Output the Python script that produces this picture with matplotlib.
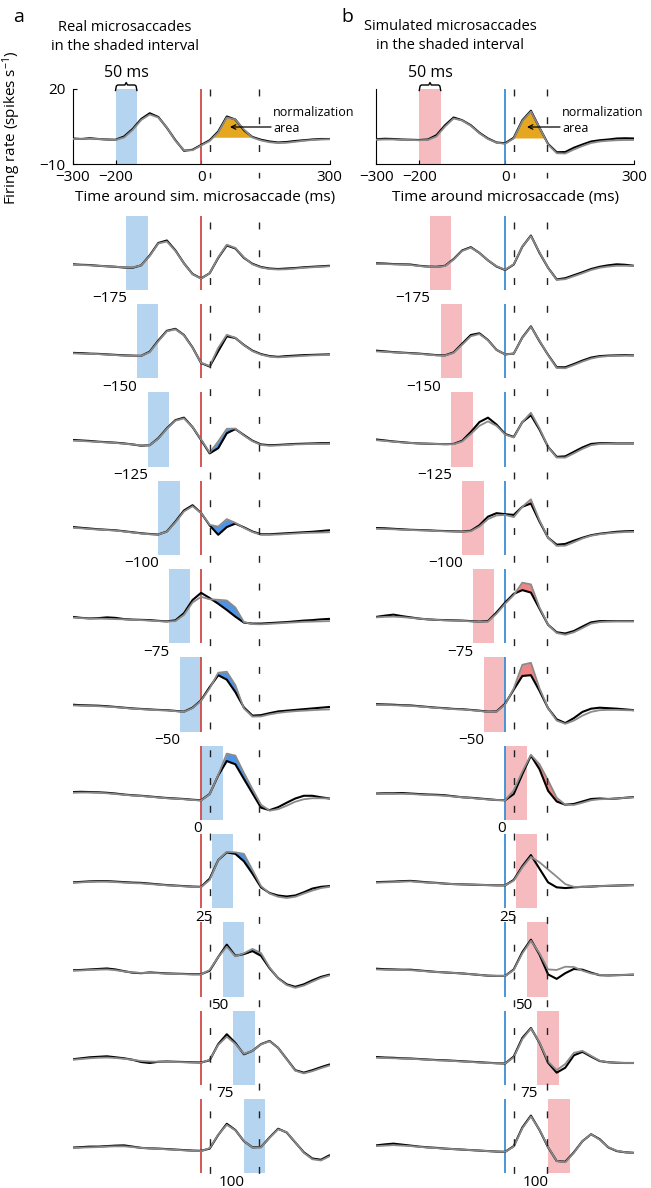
import numpy as np
import matplotlib
matplotlib.use("Agg")
import matplotlib.pyplot as plt

plt.rcParams['font.family'] = ['Open Sans', 'DejaVu Sans']
plt.rcParams['mathtext.default'] = 'regular'

W, H = 651, 1188

# sample times (ms) of every trace
t = np.arange(-300, 301, 20)

# ---- column a: real microsaccades in the shaded interval ----
top_a_black = [0.2, 0.0, 0.3, 0.0, -0.2, -0.3, 1.0, 4.0, 8.0, 10.3, 8.8, 4.5, -0.5, -4.7, -4.3, -2.4, -0.5, 3.0, 9.0, 7.8, 3.5, 0.8, -0.3, -1.0, -1.4, -1.2, -0.8, -0.5, -0.2, 0.0, 0.0]
top_a_gray = [0.0, 0.0, 0.1, 0.0, -0.2, -0.4, 0.6, 3.6, 7.6, 9.8, 8.6, 4.6, -0.7, -4.5, -4.5, -2.6, -0.8, 2.6, 8.6, 7.8, 3.8, 0.6, -0.6, -1.3, -1.6, -1.5, -1.1, -0.7, -0.4, -0.2, -0.1]

a_n175_black = [0.4, 0.2, 0.1, -0.2, -0.4, -0.6, -0.9, -1.0, 0.0, 4.0, 9.0, 10.0, 6.0, 0.8, -3.5, -5.3, -3.2, 3.0, 8.0, 6.8, 3.0, 0.6, -0.7, -1.3, -1.5, -1.3, -1.1, -0.8, -0.6, -0.4, -0.2]
a_n175_gray = [0.2, 0.1, 0.0, -0.2, -0.4, -0.6, -0.8, -0.9, 0.0, 3.8, 8.8, 9.6, 5.8, 0.8, -3.6, -5.4, -3.2, 3.2, 8.3, 7.0, 3.2, 0.4, -0.9, -1.5, -1.7, -1.6, -1.3, -1.0, -0.8, -0.6, -0.4]
a_n150_black = [0.3, 0.2, 0.0, -0.1, -0.3, -0.5, -0.7, -0.8, -0.9, 0.8, 5.3, 9.2, 10.0, 7.5, 2.5, -3.8, -5.2, 1.0, 7.0, 6.3, 3.5, 1.2, -0.2, -1.0, -1.3, -1.0, -0.8, -0.6, -0.5, -0.4, -0.3]
a_n150_gray = [0.1, 0.0, -0.1, -0.2, -0.4, -0.6, -0.8, -0.9, -0.9, 0.6, 5.0, 9.0, 9.8, 7.4, 2.4, -3.7, -5.0, 2.3, 7.6, 6.4, 3.4, 1.0, -0.4, -1.2, -1.5, -1.3, -1.1, -0.9, -0.7, -0.6, -0.5]
a_n125_black = [0.8, 0.6, 0.4, 0.1, -0.1, -0.3, -0.6, -1.0, -1.5, -1.3, 1.5, 5.5, 8.8, 9.8, 6.0, 0.8, -4.6, -2.5, 3.5, 5.2, 2.8, 0.5, -1.0, -1.3, -1.2, -1.0, -0.8, -0.7, -0.6, -0.5, -0.5]
a_n125_gray = [0.5, 0.4, 0.2, 0.0, -0.2, -0.4, -0.7, -1.0, -1.4, -1.3, 1.3, 5.3, 8.6, 9.5, 6.0, 1.0, -4.3, 0.2, 5.3, 5.4, 2.6, 0.3, -1.2, -1.5, -1.4, -1.2, -1.0, -0.9, -0.8, -0.8, -0.8]
a_n100_black = [1.3, 1.0, 0.7, 0.4, 0.2, 0.0, -0.4, -0.8, -1.2, -1.5, -1.7, -0.5, 3.5, 8.0, 10.1, 7.0, 2.0, -1.8, 1.3, 2.7, 1.2, -0.5, -1.6, -1.6, -1.4, -1.2, -1.0, -0.8, -0.6, -0.3, 0.0]
a_n100_gray = [1.0, 0.8, 0.5, 0.3, 0.1, -0.1, -0.5, -0.9, -1.3, -1.6, -1.7, -0.6, 3.2, 7.6, 9.7, 7.0, 2.2, 1.5, 4.5, 3.0, 1.0, -0.7, -1.8, -1.8, -1.7, -1.5, -1.3, -1.1, -1.0, -0.9, -0.8]
a_n75_black = [0.7, 0.3, 0.1, 0.2, 0.5, 0.3, -0.2, -0.4, -0.5, -0.6, -0.9, -1.1, -0.7, 2.2, 7.5, 10.4, 8.3, 6.0, 3.5, 0.8, -1.6, -2.0, -2.0, -1.8, -1.6, -1.4, -1.1, -0.8, -0.6, -0.3, -0.1]
a_n75_gray = [0.4, 0.2, 0.1, 0.0, -0.1, -0.2, -0.3, -0.5, -0.6, -0.8, -1.0, -1.2, -1.0, 1.5, 6.5, 8.8, 7.8, 7.6, 7.3, 4.5, -1.4, -2.2, -2.3, -2.1, -1.9, -1.7, -1.5, -1.3, -1.2, -1.1, -1.0]
a_n50_black = [0.9, 0.7, 0.6, 0.5, 0.3, 0.0, -0.3, -0.6, -0.8, -1.0, -1.2, -1.3, -1.6, -1.9, -0.3, 2.7, 8.0, 12.8, 11.0, 6.0, -0.2, -3.5, -3.3, -2.5, -1.8, -1.5, -1.2, -0.9, -0.6, -0.3, 0.0]
a_n50_gray = [0.6, 0.5, 0.4, 0.3, 0.1, -0.1, -0.4, -0.7, -0.9, -1.1, -1.3, -1.4, -1.7, -2.0, -0.5, 2.5, 7.5, 13.8, 14.2, 8.8, -0.6, -3.9, -3.8, -3.0, -2.4, -2.0, -1.7, -1.5, -1.3, -1.1, -1.0]
a_0_black = [1.3, 1.4, 1.3, 1.2, 1.0, 0.7, 0.3, 0.0, -0.2, -0.5, -0.8, -1.1, -1.3, -1.5, -1.8, -2.0, 0.5, 8.0, 13.8, 12.5, 6.6, 0.8, -5.0, -6.0, -4.8, -3.0, -1.3, -0.2, -0.2, -0.8, -1.3]
a_0_gray = [1.0, 1.1, 1.1, 1.0, 0.8, 0.5, 0.2, -0.1, -0.3, -0.6, -0.9, -1.2, -1.4, -1.6, -1.9, -2.1, 0.4, 8.2, 16.8, 16.0, 9.0, 2.5, -3.8, -6.2, -5.6, -4.2, -2.6, -1.6, -1.2, -1.2, -1.3]
a_25_black = [0.5, 0.7, 0.9, 1.0, 1.0, 0.8, 0.6, 0.4, 0.3, 0.0, -0.3, -0.6, -0.8, -1.0, -1.2, -1.3, 2.0, 9.5, 12.6, 12.0, 9.0, 4.0, -1.5, -3.8, -4.8, -5.2, -4.8, -3.5, -2.0, -1.3, -1.0]
a_25_gray = [0.3, 0.5, 0.7, 0.8, 0.8, 0.6, 0.4, 0.2, 0.1, -0.2, -0.4, -0.7, -0.9, -1.1, -1.3, -1.4, 1.5, 9.5, 12.8, 12.6, 12.0, 5.5, -1.0, -4.0, -5.3, -5.8, -5.3, -4.0, -2.8, -1.8, -1.3]
a_50_black = [0.7, 0.8, 1.0, 1.2, 1.4, 1.0, 0.3, -0.3, -0.5, -0.2, -0.4, -0.6, -0.7, -0.8, -0.9, -0.9, 0.5, 6.0, 11.0, 6.5, 7.2, 8.4, 6.5, 1.5, -2.5, -5.0, -6.0, -5.0, -3.4, -2.0, -1.1]
a_50_gray = [0.5, 0.6, 0.8, 0.9, 1.0, 0.7, 0.2, -0.2, -0.4, -0.4, -0.5, -0.7, -0.8, -0.9, -1.0, -1.0, 0.8, 6.0, 10.2, 6.3, 7.5, 9.3, 7.6, 1.8, -2.6, -5.3, -6.4, -5.5, -3.9, -2.4, -1.4]
a_75_black = [0.4, 0.8, 1.2, 1.4, 1.6, 1.2, 0.8, 0.2, -0.7, -1.1, -0.6, -0.5, -0.6, -0.7, -0.8, -0.9, 0.0, 6.5, 10.5, 7.0, 2.4, 3.8, 6.5, 7.8, 5.0, 0.5, -4.0, -5.0, -4.0, -2.8, -1.7]
a_75_gray = [0.2, 0.5, 0.8, 1.0, 1.1, 0.9, 0.6, 0.2, -0.3, -0.5, -0.6, -0.6, -0.7, -0.8, -0.9, -1.0, 0.2, 6.2, 9.5, 6.6, 2.6, 3.8, 6.4, 7.7, 5.0, 0.4, -4.2, -5.3, -4.4, -3.2, -2.1]
a_100_black = [0.4, 0.6, 0.8, 0.8, 1.0, 1.2, 1.3, 0.8, 0.3, 0.1, 0.0, -0.2, -0.4, -0.6, -0.8, -0.9, 0.0, 5.5, 10.0, 7.5, 3.0, 0.5, 0.6, 4.5, 8.0, 6.5, 2.5, -1.5, -4.0, -4.5, -2.7]
a_100_gray = [0.2, 0.4, 0.5, 0.6, 0.8, 0.9, 0.9, 0.6, 0.3, 0.1, -0.1, -0.3, -0.5, -0.7, -0.9, -1.0, 0.2, 5.6, 9.6, 7.4, 3.1, 0.4, 0.5, 4.4, 7.8, 6.6, 2.6, -1.7, -4.3, -4.8, -3.1]

# ---- column b: simulated microsaccades in the shaded interval ----
top_b_black = [-0.1, 0.1, 0.0, -0.2, -0.3, -0.4, -0.2, 1.5, 5.5, 8.6, 7.5, 5.5, 2.5, 0.2, -1.4, -1.7, 0.5, 7.5, 11.3, 4.5, -2.0, -5.3, -5.2, -3.5, -2.2, -1.0, -0.5, -0.2, 0.2, 0.3, 0.2]
top_b_gray = [-0.3, -0.2, -0.2, -0.3, -0.4, -0.5, -0.4, 1.0, 5.0, 8.2, 7.4, 5.3, 2.3, 0.0, -1.5, -1.9, 0.2, 7.2, 11.0, 4.5, -2.2, -5.7, -5.8, -4.2, -2.8, -1.6, -1.0, -0.7, -0.5, -0.4, -0.4]

b_n175_black = [0.8, 0.7, 0.5, 0.4, 0.3, -0.2, -0.5, -0.6, -0.2, 2.5, 6.0, 7.3, 5.0, 2.0, -0.5, -1.9, 0.3, 7.5, 12.0, 5.0, -1.0, -5.7, -5.2, -4.0, -2.8, -1.5, -0.6, 0.0, 0.4, 0.2, -0.2]
b_n175_gray = [0.5, 0.5, 0.4, 0.3, 0.1, -0.3, -0.6, -0.7, -0.3, 2.3, 5.8, 7.1, 5.0, 2.0, -0.4, -1.8, 0.4, 7.6, 11.8, 5.2, -1.0, -5.9, -5.6, -4.4, -3.2, -1.9, -1.0, -0.5, -0.2, -0.2, -0.3]
b_n150_black = [1.2, 0.9, 0.6, 0.4, 0.2, 0.0, -0.3, -0.6, -0.7, 0.5, 4.0, 7.5, 8.2, 5.5, 1.5, -0.3, 0.0, 6.5, 11.0, 5.0, -0.5, -5.5, -5.5, -4.2, -2.8, -1.6, -1.0, -0.8, -0.7, -0.6, -0.7]
b_n150_gray = [0.9, 0.7, 0.5, 0.3, 0.1, -0.1, -0.4, -0.7, -0.8, 0.3, 3.6, 7.0, 7.9, 5.4, 1.5, -0.3, 0.0, 6.4, 10.8, 5.2, -0.6, -5.8, -5.9, -4.6, -3.2, -2.0, -1.3, -1.0, -0.9, -0.8, -0.8]
b_n125_black = [1.0, 0.6, 0.2, -0.1, -0.4, -0.6, -0.7, -0.8, -0.9, -0.8, 0.5, 4.0, 8.0, 9.8, 7.0, 3.2, 2.0, 8.0, 10.8, 5.0, -2.0, -6.0, -5.8, -4.0, -2.2, -0.8, -0.5, -0.5, -0.6, -0.6, -0.6]
b_n125_gray = [0.7, 0.4, 0.1, -0.2, -0.4, -0.6, -0.7, -0.8, -0.9, -0.9, 0.2, 3.2, 6.5, 8.3, 6.5, 3.0, 1.8, 8.0, 11.8, 5.5, -2.0, -6.3, -6.3, -4.6, -2.8, -1.3, -0.8, -0.7, -0.7, -0.7, -0.7]
b_n100_black = [0.9, 0.8, 0.6, 0.4, 0.2, 0.1, 0.0, -0.2, -0.3, -0.4, -0.5, -0.2, 2.0, 5.5, 6.9, 6.5, 6.2, 9.5, 10.8, 3.5, -3.0, -5.8, -5.5, -4.2, -3.0, -2.0, -1.4, -1.0, -0.6, -0.4, -0.3]
b_n100_gray = [0.6, 0.5, 0.4, 0.2, 0.1, 0.0, -0.1, -0.3, -0.4, -0.5, -0.6, -0.4, 1.5, 4.5, 6.0, 6.2, 5.3, 9.5, 12.5, 4.0, -3.0, -6.3, -6.2, -4.8, -3.3, -2.2, -1.6, -1.2, -0.9, -0.7, -0.6]
b_n75_black = [0.7, 1.2, 1.6, 1.0, 0.5, 0.0, -0.3, -0.5, -0.6, -0.7, -0.8, -1.0, -1.2, -1.0, 2.5, 6.5, 10.0, 11.5, 10.5, 4.0, -2.5, -5.5, -6.0, -5.0, -3.2, -1.5, -1.0, -1.0, -1.0, -1.0, -1.0]
b_n75_gray = [0.5, 0.7, 0.8, 0.6, 0.3, 0.0, -0.3, -0.5, -0.7, -0.8, -0.9, -1.1, -1.3, -1.2, 2.0, 6.0, 9.5, 14.5, 13.8, 4.5, -2.5, -5.8, -6.5, -5.5, -3.8, -2.0, -1.4, -1.2, -1.1, -1.1, -1.1]
b_n50_black = [1.1, 1.0, 0.9, 0.7, 0.6, 0.3, 0.0, -0.3, -0.5, -0.8, -0.9, -1.2, -1.5, -1.9, -1.8, 1.3, 7.0, 12.5, 12.8, 6.5, -0.5, -5.0, -6.5, -4.5, -2.0, -0.7, -0.3, -0.5, -0.7, -1.0, -1.3]
b_n50_gray = [0.8, 0.8, 0.7, 0.6, 0.4, 0.2, -0.1, -0.4, -0.6, -0.9, -1.0, -1.3, -1.6, -2.0, -1.9, 1.0, 7.5, 17.0, 17.8, 7.5, -0.5, -5.5, -6.8, -5.5, -3.5, -2.0, -1.3, -1.2, -1.2, -1.3, -1.4]
b_0_black = [0.7, 0.8, 0.8, 0.9, 0.7, 0.5, 0.3, 0.2, 0.0, -0.4, -0.8, -1.0, -1.3, -1.6, -1.9, -2.0, 0.5, 8.5, 16.0, 10.5, 1.8, -2.5, -3.8, -3.5, -2.5, -1.5, -1.3, -1.5, -1.3, -1.0, -0.7]
b_0_gray = [0.5, 0.6, 0.6, 0.6, 0.5, 0.3, 0.1, 0.0, -0.2, -0.5, -0.8, -1.1, -1.4, -1.7, -1.9, -2.0, 2.0, 9.5, 16.3, 12.5, 6.0, -1.0, -3.8, -3.9, -3.0, -2.0, -1.6, -1.5, -1.3, -1.0, -0.8]
b_25_black = [0.6, 0.7, 0.8, 1.0, 1.1, 0.8, 0.5, 0.3, 0.0, -0.2, -0.3, -0.4, -0.5, -0.6, -0.7, -0.7, 1.5, 7.0, 11.5, 6.0, 0.5, -1.5, -1.8, -1.5, -1.3, -1.2, -1.0, -0.9, -0.8, -0.7, -0.6]
b_25_gray = [0.4, 0.5, 0.6, 0.8, 0.9, 0.6, 0.4, 0.2, 0.0, -0.2, -0.3, -0.4, -0.5, -0.6, -0.7, -0.7, 1.2, 6.5, 10.8, 8.6, 5.7, 2.8, -0.2, -1.3, -1.4, -1.2, -1.0, -0.9, -0.8, -0.7, -0.6]
b_50_black = [1.3, 1.1, 1.0, 0.9, 0.9, 0.6, 0.3, 0.0, -0.2, -0.4, -0.6, -0.9, -1.2, -1.5, -1.6, -1.6, 1.0, 8.0, 13.0, 7.0, -1.0, -2.8, -0.5, 1.2, 0.9, -0.3, -1.3, -1.4, -1.3, -1.2, -1.1]
b_50_gray = [1.0, 0.9, 0.8, 0.8, 0.7, 0.5, 0.2, 0.0, -0.2, -0.4, -0.6, -0.9, -1.2, -1.5, -1.6, -1.6, 0.8, 7.5, 12.6, 7.5, 1.0, 0.8, 2.1, 2.0, 0.5, -0.6, -1.2, -1.3, -1.3, -1.2, -1.1]
b_75_black = [1.3, 1.1, 1.0, 0.8, 0.7, 0.5, 0.3, 0.1, 0.0, -0.2, -0.4, -0.6, -0.8, -1.0, -1.2, -1.3, 1.5, 9.0, 13.0, 7.0, -1.0, -5.0, -3.0, 2.0, 3.4, 1.5, -0.3, -0.8, -1.0, -1.1, -1.1]
b_75_gray = [1.0, 0.9, 0.8, 0.7, 0.6, 0.4, 0.2, 0.0, -0.1, -0.3, -0.5, -0.7, -0.9, -1.1, -1.2, -1.3, 1.2, 8.5, 12.8, 7.2, -0.5, -4.0, -1.5, 3.0, 3.8, 1.8, -0.2, -0.8, -1.0, -1.1, -1.1]
b_100_black = [1.3, 1.7, 2.0, 1.6, 1.2, 0.8, 0.5, 0.3, 0.0, -0.2, -0.4, -0.6, -0.8, -1.0, -1.2, -1.3, 1.0, 8.5, 13.3, 7.5, 0.5, -5.0, -5.3, -1.5, 3.0, 5.8, 3.8, 0.5, -1.0, -1.5, -1.7]
b_100_gray = [1.0, 1.2, 1.4, 1.2, 1.0, 0.7, 0.4, 0.2, 0.0, -0.2, -0.4, -0.6, -0.8, -1.0, -1.2, -1.3, 0.8, 8.2, 13.0, 7.6, 0.6, -5.0, -5.5, -1.7, 3.0, 5.8, 3.6, 0.6, -0.9, -1.5, -1.8]

# start of the shaded 50 ms interval in each lower panel
interval_starts = [-175, -150, -125, -100, -75, -50, 0, 25, 50, 75, 100]
top_interval_start = -200
interval_len = 50
dashed_a = [21, 135]
dashed_b = [21, 98]
norm_base_a = 0.7
norm_base_b = 0.4
# windows (ms) where the difference between traces is shaded
diff_win_a = [None, (20, 80), (20, 100), (20, 100), (20, 100), (20, 120), (40, 140), (60, 140), (80, 160), None, None]
diff_win_b = [None, None, (40, 100), (40, 100), (20, 100), (20, 100), (60, 120), None, None, None, None]

a_black = [a_n175_black, a_n150_black, a_n125_black, a_n100_black, a_n75_black, a_n50_black,
           a_0_black, a_25_black, a_50_black, a_75_black, a_100_black]
a_gray = [a_n175_gray, a_n150_gray, a_n125_gray, a_n100_gray, a_n75_gray, a_n50_gray,
          a_0_gray, a_25_gray, a_50_gray, a_75_gray, a_100_gray]
b_black = [b_n175_black, b_n150_black, b_n125_black, b_n100_black, b_n75_black, b_n50_black,
           b_0_black, b_25_black, b_50_black, b_75_black, b_100_black]
b_gray = [b_n175_gray, b_n150_gray, b_n125_gray, b_n100_gray, b_n75_gray, b_n50_gray,
          b_0_gray, b_25_gray, b_50_gray, b_75_gray, b_100_gray]

SHADE_A, SHADE_B = '#b5d4ef', '#f5bbbf'
ZERO_A, ZERO_B = '#d24a44', '#3a8fd3'
DIFF_A, DIFF_B = '#4d93e6', '#ef8685'
ORANGE = '#e5a720'
GRAY = '#8a8a8a'

fig = plt.figure(figsize=(W / 100, H / 100), dpi=100)


def add_ax(x0, y0, x1, y1):
    return fig.add_axes([x0 / W, 1 - y1 / H, (x1 - x0) / W, (y1 - y0) / H])


def ftext(x, y, s, **kw):
    fig.text(x / W, 1 - y / H, s, **kw)


def fmt(v):
    return str(v).replace('-', '\u2212')


def draw_traces(ax, black, gray, zorder=4):
    ax.plot(t, black, color='k', lw=1.5, zorder=zorder, solid_capstyle='round')
    ax.plot(t, gray, color=GRAY, lw=1.3, zorder=zorder + 1, solid_capstyle='round')


def top_panel(x0, x1, black, gray, shade, zero_col, base, dashed, ylabels):
    ax = add_ax(x0, 89, x1, 164)
    ax.set_xlim(-300, 300)
    ax.set_ylim(-10, 20)
    ax.axvspan(top_interval_start, top_interval_start + interval_len, color=shade, lw=0, zorder=1)
    ax.axvline(0, color=zero_col, lw=1.3, zorder=2)
    bl = np.array(black)
    ax.fill_between(t, bl, base, where=(bl > base) & (t > 0) & (t < 200),
                    interpolate=True, color=ORANGE, lw=0, zorder=3)
    draw_traces(ax, black, gray)
    for d in dashed:
        ax.plot([d, d], [20, -15.6], color='#222222', lw=1.0, ls=(0, (5, 15)), clip_on=False, zorder=6)
    # brace over the 50 ms interval
    s = top_interval_start
    ax.plot([s, s + 2, s + 5, s + 22, s + 25, s + 28, s + 45, s + 48, s + 50],
            [19.4, 21.2, 21.6, 21.6, 22.6, 21.6, 21.6, 21.2, 19.4],
            color='k', lw=1.0, clip_on=False)
    for side in ['top', 'right']:
        ax.spines[side].set_visible(False)
    for side in ['left', 'bottom']:
        ax.spines[side].set_linewidth(0.8)
    ax.set_xticks([-300, -200, 0, 300])
    ax.set_xticklabels([fmt(v) for v in [-300, -200, 0, 300]])
    if ylabels:
        ax.set_yticks([-10, 20])
        ax.set_yticklabels([fmt(v) for v in [-10, 20]])
    else:
        ax.set_yticks([])
    ax.tick_params(direction='in', length=3, width=0.8, labelsize=11)
    ax.tick_params(axis='x', pad=4.5)
    ax.tick_params(axis='y', pad=5)
    ax.patch.set_alpha(0)
    return ax


def lower_panels(x0, x1, blacks, grays, shade, zero_col, diff_col, wins):
    for i, start in enumerate(interval_starts):
        y0 = 215.7 + 88.33 * i
        ax = add_ax(x0, y0, x1, y0 + 74.4)
        ax.set_xlim(-300, 300)
        ax.set_ylim(-10, 20)
        ax.axis('off')
        ax.axvspan(start, start + interval_len, color=shade, lw=0, zorder=1)
        ax.axvline(0, color=zero_col, lw=1.3, zorder=2)
        bl, gr = np.array(blacks[i]), np.array(grays[i])
        if wins[i] is not None:
            lo, hi = wins[i]
            ax.fill_between(t, bl, gr, where=(gr > bl) & (t >= lo) & (t <= hi),
                            interpolate=True, color=diff_col, lw=0, zorder=3)
        draw_traces(ax, bl, gr)
        shift = 14 if start == 50 else 1
        ax.text(start + shift, -10.5, fmt(start), ha='right', va='top', fontsize=11, clip_on=False)


# column a
top_panel(72.7, 329.5, top_a_black, top_a_gray, SHADE_A, ZERO_A, norm_base_a, dashed_a, True)
lower_panels(72.7, 329.5, a_black, a_gray, SHADE_A, ZERO_A, DIFF_A, diff_win_a)
# column b
top_panel(376.3, 634.0, top_b_black, top_b_gray, SHADE_B, ZERO_B, norm_base_b, dashed_b, False)
lower_panels(376.3, 634.0, b_black, b_gray, SHADE_B, ZERO_B, DIFF_B, diff_win_b)

# dashed analysis window running through the lower panels
for x0, x1, dashed in [(72.7, 329.5, dashed_a), (376.3, 634.0, dashed_b)]:
    ov = add_ax(x0, 222, x1, 1180)
    ov.set_xlim(-300, 300)
    ov.set_ylim(0, 1)
    ov.axis('off')
    for d in dashed:
        ov.plot([d, d], [1, 0], color='#222222', lw=1.0, ls=(0, (5, 15)))

# texts
ftext(19, 17, 'a', fontsize=14, ha='center', va='center')
ftext(347, 17, 'b', fontsize=14, ha='center', va='center')
ftext(125, 37, 'Real microsaccades\nin the shaded interval', fontsize=10.5,
      ha='center', va='center', linespacing=1.35)
ftext(450, 36, 'Simulated microsaccades\nin the shaded interval', fontsize=10.5,
      ha='center', va='center', linespacing=1.35)
ftext(126, 73, '50 ms', fontsize=11.5, ha='center', va='center')
ftext(430, 73, '50 ms', fontsize=11.5, ha='center', va='center')
ftext(12, 128, 'Firing rate (spikes s$^{-1}$)', fontsize=11, rotation=90, ha='center', va='center')
ftext(205, 198, 'Time around sim. microsaccade (ms)', fontsize=11, ha='center', va='center')
ftext(506, 198, 'Time around microsaccade (ms)', fontsize=11, ha='center', va='center')

for tx, tip in [(273, 230), (562, 527)]:
    ftext(tx, 112, 'normalization', fontsize=9, ha='left', va='center')
    ftext(tx, 128, 'area', fontsize=9, ha='left', va='center')
    fig.add_artist(matplotlib.patches.FancyArrowPatch(
        ((tx - 2) / W, 1 - 127 / H), (tip / W, 1 - 127 / H), transform=fig.transFigure,
        arrowstyle='->', mutation_scale=8, lw=0.9, color='k', shrinkA=0, shrinkB=0))

fig.savefig('out.png', dpi=100)
